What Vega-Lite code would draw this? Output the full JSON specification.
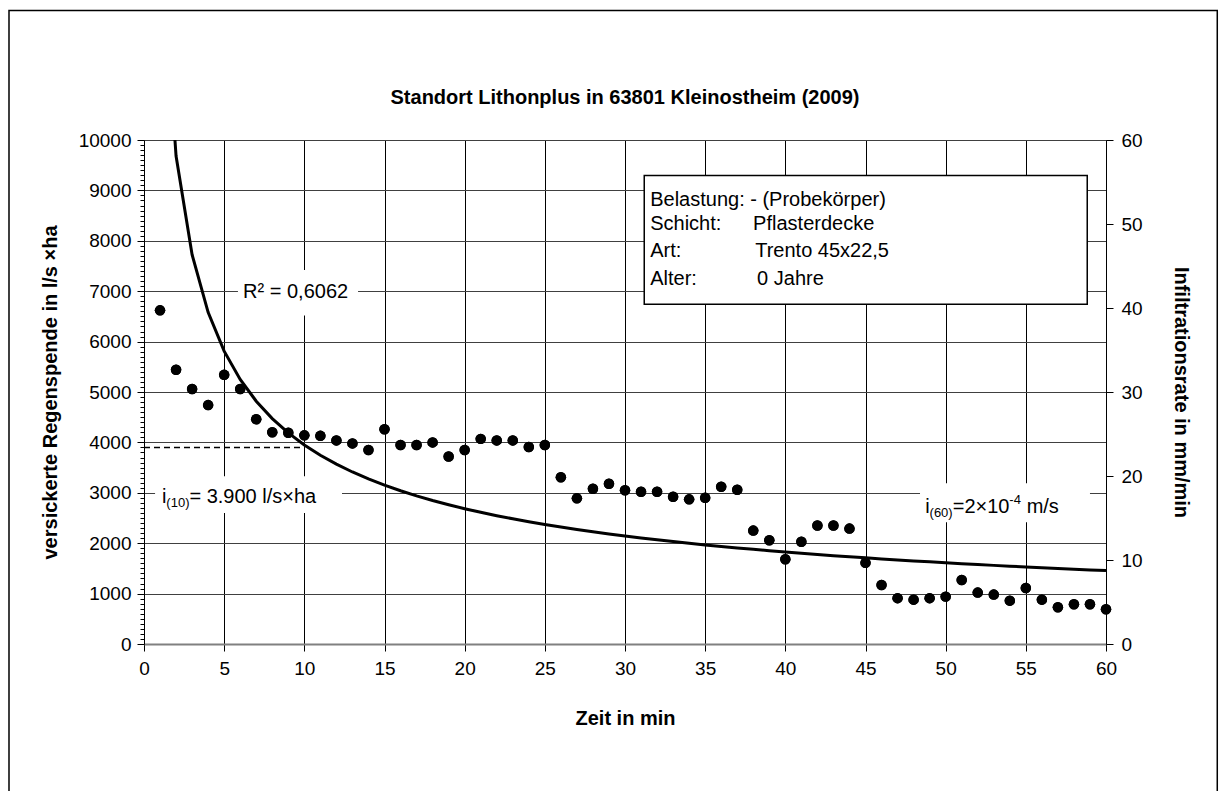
{
  "$schema": "https://vega.github.io/schema/vega-lite/v6.json",
  "width": 962,
  "height": 504,
  "autosize": {"type": "none"},
  "padding": {"left": 144, "top": 140, "right": 122, "bottom": 147},
  "background": "white",
  "config": {
    "font": "Liberation Sans",
    "view": {"stroke": null},
    "axis": {"domainColor": "#000", "tickColor": "#000", "labelColor": "#000", "titleColor": "#000", "labelFontSize": 19, "titleFontSize": 20, "titleFontWeight": "bold", "labelFont": "Liberation Sans", "titleFont": "Liberation Sans"}
  },
  "datasets": {
    "points": [
      {"t":1,"v":6620},{"t":2,"v":5440},{"t":3,"v":5060},{"t":4,"v":4740},{"t":5,"v":5340},{"t":6,"v":5060},{"t":7,"v":4460},{"t":8,"v":4200},{"t":9,"v":4190},{"t":10,"v":4140},
      {"t":11,"v":4130},{"t":12,"v":4040},{"t":13,"v":3980},{"t":14,"v":3850},{"t":15,"v":4260},{"t":16,"v":3950},{"t":17,"v":3950},{"t":18,"v":4000},{"t":19,"v":3720},{"t":20,"v":3850},
      {"t":21,"v":4070},{"t":22,"v":4040},{"t":23,"v":4040},{"t":24,"v":3910},{"t":25,"v":3950},{"t":26,"v":3310},{"t":27,"v":2890},{"t":28,"v":3080},{"t":29,"v":3180},{"t":30,"v":3050},
      {"t":31,"v":3020},{"t":32,"v":3020},{"t":33,"v":2920},{"t":34,"v":2870},{"t":35,"v":2900},{"t":36,"v":3120},{"t":37,"v":3060},{"t":38,"v":2250},{"t":39,"v":2060},{"t":40,"v":1680},
      {"t":41,"v":2030},{"t":42,"v":2350},{"t":43,"v":2350},{"t":44,"v":2290},{"t":45,"v":1610},{"t":46,"v":1170},{"t":47,"v":910},{"t":48,"v":880},{"t":49,"v":910},{"t":50,"v":940},
      {"t":51,"v":1270},{"t":52,"v":1020},{"t":53,"v":980},{"t":54,"v":860},{"t":55,"v":1110},{"t":56,"v":880},{"t":57,"v":730},{"t":58,"v":790},{"t":59,"v":790},{"t":60,"v":690}
    ],
    "trend": [
      {"t":1,"v":14243},{"t":2,"v":9681},{"t":3,"v":7724},{"t":4,"v":6581},{"t":5,"v":5811},{"t":6,"v":5250},{"t":7,"v":4818},{"t":8,"v":4473},{"t":9,"v":4189},{"t":10,"v":3950},
      {"t":11,"v":3746},{"t":12,"v":3569},{"t":13,"v":3413},{"t":14,"v":3275},{"t":15,"v":3151},{"t":16,"v":3040},{"t":17,"v":2939},{"t":18,"v":2847},{"t":19,"v":2763},{"t":20,"v":2685},
      {"t":21,"v":2613},{"t":22,"v":2546},{"t":23,"v":2484},{"t":24,"v":2426},{"t":25,"v":2371},{"t":26,"v":2320},{"t":27,"v":2272},{"t":28,"v":2226},{"t":29,"v":2183},{"t":30,"v":2142},
      {"t":31,"v":2103},{"t":32,"v":2067},{"t":33,"v":2032},{"t":34,"v":1998},{"t":35,"v":1966},{"t":36,"v":1935},{"t":37,"v":1906},{"t":38,"v":1878},{"t":39,"v":1851},{"t":40,"v":1825},
      {"t":41,"v":1800},{"t":42,"v":1776},{"t":43,"v":1753},{"t":44,"v":1731},{"t":45,"v":1709},{"t":46,"v":1688},{"t":47,"v":1668},{"t":48,"v":1649},{"t":49,"v":1630},{"t":50,"v":1612},
      {"t":51,"v":1594},{"t":52,"v":1577},{"t":53,"v":1560},{"t":54,"v":1544},{"t":55,"v":1528},{"t":56,"v":1513},{"t":57,"v":1498},{"t":58,"v":1484},{"t":59,"v":1470},{"t":60,"v":1456}
    ],
    "frame": [{"x": -8.42, "x2": 66.94, "y": -3092, "y2": 12567}],
    "whiteboxes": [
      {"x": 5.86, "x2": 13.35, "y": 6520, "y2": 7420},
      {"x": 0.69, "x2": 12.35, "y": 2597, "y2": 3330},
      {"x": 48.4, "x2": 59.0, "y": 2418, "y2": 3191}
    ],
    "infobox": [{"x": 31.2, "x2": 58.83, "y": 6739, "y2": 9296}],
    "dashed": [{"x": 0, "x2": 10, "y": 3900}],
    "titletext": [{"x": 30, "y": 10842, "text": "Standort Lithonplus in 63801 Kleinostheim (2009)"}],
    "bigtext": [
      {"x": 6.18, "y": 6990, "text": "R² = 0,6062"},
      {"x": 1.12, "y": 2914, "text": "i"},
      {"x": 2.835, "y": 2914, "text": "= 3.900 l/s×ha"},
      {"x": 48.72, "y": 2721, "text": "i"},
      {"x": 50.44, "y": 2721, "text": "=2×10"},
      {"x": 55.05, "y": 2721, "text": "m/s"},
      {"x": 31.57, "y": 8801, "text": "Belastung: - (Probekörper)"},
      {"x": 31.57, "y": 8339, "text": "Schicht:"},
      {"x": 37.99, "y": 8339, "text": "Pflasterdecke"},
      {"x": 31.57, "y": 7790, "text": "Art:"},
      {"x": 38.12, "y": 7790, "text": "Trento 45x22,5"},
      {"x": 31.57, "y": 7249, "text": "Alter:"},
      {"x": 38.24, "y": 7249, "text": "0 Jahre"}
    ],
    "smalltext": [
      {"x": 1.395, "y": 2795, "text": "(10)"},
      {"x": 48.995, "y": 2602, "text": "(60)"},
      {"x": 53.97, "y": 2860, "text": "-4"}
    ],
    "mm": [{"mm": 0}, {"mm": 60}]
  },
  "resolve": {"scale": {"x": "independent", "y": "independent"}, "axis": {"x": "independent", "y": "independent"}},
  "layer": [
    {
      "data": {"name": "points"},
      "mark": {"type": "circle", "size": 110, "color": "#000", "opacity": 1},
      "encoding": {
        "x": {"field": "t", "type": "quantitative", "scale": {"domain": [0, 60]},
          "axis": {"values": [0,5,10,15,20,25,30,35,40,45,50,55,60], "title": "Zeit in min", "grid": true, "gridColor": "#000", "gridWidth": 1, "tickSize": 7, "labelPadding": 8, "titlePadding": 30, "domainColor": "#808080", "domainWidth": 2, "labelFlush": false}},
        "y": {"field": "v", "type": "quantitative", "scale": {"domain": [0, 10000]},
          "axis": {"values": [0,100,200,300,400,500,600,700,800,900,1000,1100,1200,1300,1400,1500,1600,1700,1800,1900,2000,2100,2200,2300,2400,2500,2600,2700,2800,2900,3000,3100,3200,3300,3400,3500,3600,3700,3800,3900,4000,4100,4200,4300,4400,4500,4600,4700,4800,4900,5000,5100,5200,5300,5400,5500,5600,5700,5800,5900,6000,6100,6200,6300,6400,6500,6600,6700,6800,6900,7000,7100,7200,7300,7400,7500,7600,7700,7800,7900,8000,8100,8200,8300,8400,8500,8600,8700,8800,8900,9000,9100,9200,9300,9400,9500,9600,9700,9800,9900,10000],
            "format": "d", "labelExpr": "datum.value % 1000 === 0 ? datum.label : ''", "labelOverlap": false, "labelFlush": false,
            "title": "versickerte Regenspende in l/s ×ha", "titlePadding": 18, "labelPadding": 6,
            "grid": true, "gridColor": "#404040", "gridWidth": 1,
            "gridOpacity": {"condition": {"test": "datum.value % 1000 === 0", "value": 1}, "value": 0},
            "tickSize": {"condition": {"test": "datum.value % 1000 === 0", "value": 7}, "value": 4}}}
      }
    },
    {
      "data": {"name": "frame"},
      "mark": {"type": "rect", "fillOpacity": 0, "stroke": "#000", "strokeWidth": 1.5, "clip": false},
      "encoding": {
        "x": {"field": "x", "type": "quantitative", "scale": {"domain": [0, 60]}, "axis": null},
        "x2": {"field": "x2"},
        "y": {"field": "y", "type": "quantitative", "scale": {"domain": [0, 10000]}, "axis": null},
        "y2": {"field": "y2"}
      }
    },
    {
      "data": {"name": "whiteboxes"},
      "mark": {"type": "rect", "fill": "#fff", "stroke": null},
      "encoding": {
        "x": {"field": "x", "type": "quantitative", "scale": {"domain": [0, 60]}, "axis": null},
        "x2": {"field": "x2"},
        "y": {"field": "y", "type": "quantitative", "scale": {"domain": [0, 10000]}, "axis": null},
        "y2": {"field": "y2"}
      }
    },
    {
      "data": {"name": "infobox"},
      "mark": {"type": "rect", "fill": "#fff", "stroke": "#000", "strokeWidth": 1.5},
      "encoding": {
        "x": {"field": "x", "type": "quantitative", "scale": {"domain": [0, 60]}, "axis": null},
        "x2": {"field": "x2"},
        "y": {"field": "y", "type": "quantitative", "scale": {"domain": [0, 10000]}, "axis": null},
        "y2": {"field": "y2"}
      }
    },
    {
      "data": {"name": "dashed"},
      "mark": {"type": "rule", "color": "#000", "strokeWidth": 1.5, "strokeDash": [6, 4]},
      "encoding": {
        "x": {"field": "x", "type": "quantitative", "scale": {"domain": [0, 60]}, "axis": null},
        "x2": {"field": "x2"},
        "y": {"field": "y", "type": "quantitative", "scale": {"domain": [0, 10000]}, "axis": null}
      }
    },
    {
      "data": {"name": "trend"},
      "mark": {"type": "line", "color": "#000", "strokeWidth": 3, "clip": true},
      "encoding": {
        "x": {"field": "t", "type": "quantitative", "scale": {"domain": [0, 60]}, "axis": null},
        "y": {"field": "v", "type": "quantitative", "scale": {"domain": [0, 10000]}, "axis": null}
      }
    },
    {
      "data": {"name": "points"},
      "mark": {"type": "circle", "size": 110, "color": "#000", "opacity": 1},
      "encoding": {
        "x": {"field": "t", "type": "quantitative", "scale": {"domain": [0, 60]}, "axis": null},
        "y": {"field": "v", "type": "quantitative", "scale": {"domain": [0, 10000]}, "axis": null}
      }
    },
    {
      "data": {"name": "titletext"},
      "mark": {"type": "text", "align": "center", "baseline": "middle", "fontSize": 20, "fontWeight": "bold", "color": "#000", "clip": false},
      "encoding": {
        "x": {"field": "x", "type": "quantitative", "scale": {"domain": [0, 60]}, "axis": null},
        "y": {"field": "y", "type": "quantitative", "scale": {"domain": [0, 10000]}, "axis": null},
        "text": {"field": "text"}
      }
    },
    {
      "data": {"name": "bigtext"},
      "mark": {"type": "text", "align": "left", "baseline": "middle", "fontSize": 20, "color": "#000"},
      "encoding": {
        "x": {"field": "x", "type": "quantitative", "scale": {"domain": [0, 60]}, "axis": null},
        "y": {"field": "y", "type": "quantitative", "scale": {"domain": [0, 10000]}, "axis": null},
        "text": {"field": "text"}
      }
    },
    {
      "data": {"name": "smalltext"},
      "mark": {"type": "text", "align": "left", "baseline": "middle", "fontSize": 13, "color": "#000"},
      "encoding": {
        "x": {"field": "x", "type": "quantitative", "scale": {"domain": [0, 60]}, "axis": null},
        "y": {"field": "y", "type": "quantitative", "scale": {"domain": [0, 10000]}, "axis": null},
        "text": {"field": "text"}
      }
    },
    {
      "data": {"name": "mm"},
      "mark": {"type": "rule", "strokeOpacity": 0},
      "encoding": {
        "y": {"field": "mm", "type": "quantitative", "scale": {"domain": [0, 60]},
          "axis": {"orient": "right", "values": [0,10,20,30,40,50,60], "grid": false, "tickSize": 7, "labelPadding": 8, "title": "Infiltrationsrate in mm/min", "titlePadding": 28, "labelFlush": false}}
      }
    }
  ]
}
